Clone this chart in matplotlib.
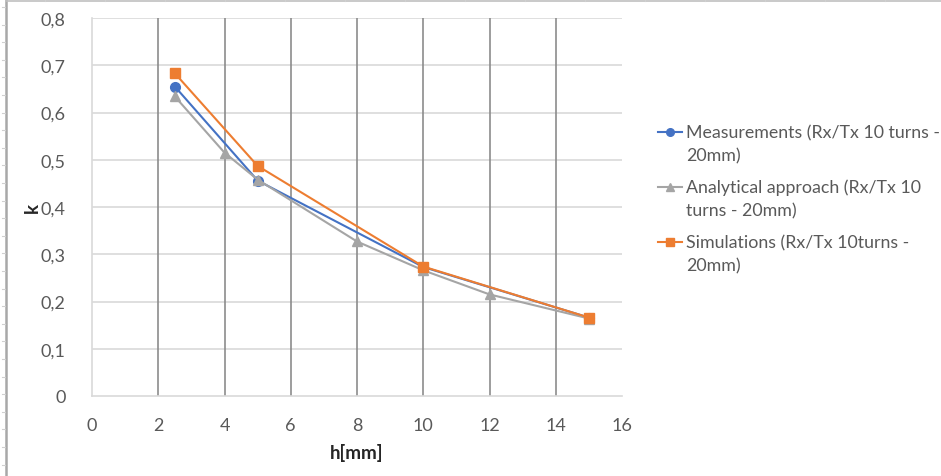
import matplotlib.pyplot as plt
from matplotlib.lines import Line2D
from matplotlib.ticker import FuncFormatter

plt.rcParams['font.family'] = ['Lato', 'DejaVu Sans']

# coupling factor k against distance h
h_meas = [2.5, 5, 10, 15]
k_meas = [0.655, 0.456, 0.273, 0.166]

h_anal = [2.5, 4, 5, 8, 10, 12, 15]
k_anal = [0.634, 0.515, 0.458, 0.327, 0.266, 0.215, 0.164]

h_sim = [2.5, 5, 10, 15]
k_sim = [0.683, 0.487, 0.274, 0.166]

labels = [['Measurements (Rx/Tx 10 turns -', '20mm)'],
          ['Analytical approach (Rx/Tx 10', 'turns - 20mm)'],
          ['Simulations (Rx/Tx 10turns -', '20mm)']]

x_ticks = [0, 2, 4, 6, 8, 10, 12, 14, 16]
y_ticks = [0, 0.1, 0.2, 0.3, 0.4, 0.5, 0.6, 0.7, 0.8]

BLUE = '#4472C4'
GREY = '#A5A5A5'
ORANGE = '#ED7D31'
TXT = '#595959'
W, H = 941, 477

fig = plt.figure(figsize=(W / 100, H / 100), dpi=100)
ax = fig.add_axes([92 / W, 80 / H, 530 / W, 378 / H])

# spreadsheet cell borders behind the chart
fig.add_artist(Line2D([6 / W, 6 / W], [0, 1], color='#a8a8a8', lw=1.8))
fig.add_artist(Line2D([6 / W, 1], [1 - 2 / H, 1 - 2 / H], color='#c0c0c0', lw=1.2))
for i in range(27):
    yy = 1 - (8 + i * 17.6) / H
    fig.add_artist(Line2D([2 / W, 5 / W], [yy, yy], color='#d0d0d0', lw=0.8))
for xx in range(45, W, 60):
    fig.add_artist(Line2D([xx / W, xx / W], [1 - 2 / H, 1], color='#d0d0d0', lw=0.8))

styles = [(BLUE, 'o'), (GREY, '^'), (ORANGE, 's')]
series = [(h_meas, k_meas), (h_anal, k_anal), (h_sim, k_sim)]
for (hx, ky), (c, m), z in zip(series, styles, [3, 4, 5]):
    ax.plot(hx, ky, color=c, lw=1.5, marker=m, ms=7, zorder=z)

ax.set_xlim(0, 16)
ax.set_ylim(0, 0.8)
ax.set_xticks(x_ticks)
ax.set_yticks(y_ticks)
ax.yaxis.set_major_formatter(FuncFormatter(lambda v, p: ('%g' % round(v, 1)).replace('.', ',')))

for y in y_ticks[1:]:
    ax.axhline(y, color='#d9d9d9', lw=1.2, zorder=1)
for x in x_ticks[1:-1]:
    ax.axvline(x, color='#8c8c8c', lw=1.2, zorder=2)

for side in ['top', 'right']:
    ax.spines[side].set_visible(False)
for side in ['left', 'bottom']:
    ax.spines[side].set_color('#d9d9d9')
    ax.spines[side].set_linewidth(1.2)

ax.tick_params(length=0, labelsize=13, labelcolor=TXT)
ax.tick_params(axis='x', pad=15)
ax.tick_params(axis='y', pad=19)

ax.set_xlabel('h[mm]', fontsize=13.5, fontweight='bold', color='#262626', labelpad=7)
ax.set_ylabel('k', fontsize=13.5, fontweight='bold', color='#262626', labelpad=0)

# legend, handle aligned with the first text line like Excel does
row_y = [133, 188, 243]
for (c, m), lines, y0 in zip(styles, labels, row_y):
    yf = 1 - y0 / H
    fig.add_artist(Line2D([658 / W, 670 / W, 682 / W], [yf, yf, yf], color=c, lw=1.5,
                          marker=m, ms=5.5, markevery=[1]))
    for j, s in enumerate(lines):
        fig.text(686 / W, 1 - (y0 + 23 * j) / H, s, fontsize=12.8, color=TXT, va='center')

fig.savefig('out.png', dpi=100)
